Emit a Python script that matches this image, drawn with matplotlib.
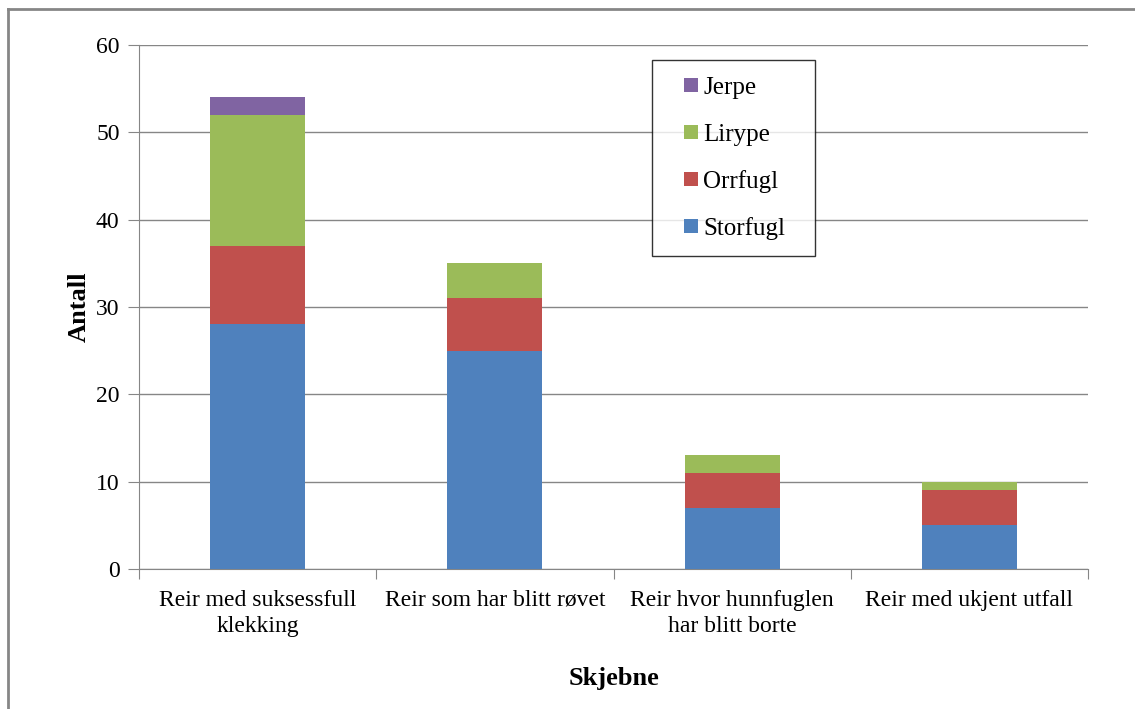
import numpy as np
import matplotlib.pyplot as plt
from matplotlib.lines import Line2D

plt.rcParams['font.family'] = ['Liberation Serif', 'DejaVu Serif']

# Antall reir per skjebne, fordelt på art
kategorier = ["Reir med suksessfull\nklekking", "Reir som har blitt røvet",
              "Reir hvor hunnfuglen\nhar blitt borte", "Reir med ukjent utfall"]
storfugl = [28, 25, 7, 5]
orrfugl = [9, 6, 4, 4]
lirype = [15, 4, 2, 1]
jerpe = [2, 0, 0, 0]

serier = [("Storfugl", storfugl, "#4F81BD"),
          ("Orrfugl", orrfugl, "#C0504D"),
          ("Lirype", lirype, "#9BBB59"),
          ("Jerpe", jerpe, "#8064A2")]

fig = plt.figure(figsize=(11.35, 7.09), dpi=100)
ax = fig.add_axes([0.1225, 0.1975, 0.8361, 0.739])

x = np.arange(len(kategorier))
bunn = np.zeros(len(kategorier))
for navn, verdier, farge in serier:
    ax.bar(x, verdier, 0.4, bottom=bunn, color=farge, label=navn, zorder=3)
    bunn += np.array(verdier)

ax.set_xlim(-0.5, 3.5)
ax.set_ylim(0, 60)
ax.set_yticks(range(0, 61, 10))
ax.yaxis.grid(True, color="#868686", linewidth=1, zorder=0)

# kategori-grenser som tick-merker på x-aksen
ax.set_xticks(np.arange(-0.5, 4, 1))
ax.set_xticklabels([])
ax.set_xticks(x, minor=True)
ax.set_xticklabels(kategorier, minor=True, fontsize=17, linespacing=1.3)
ax.tick_params(axis="x", which="minor", length=0, pad=15)
ax.tick_params(axis="x", which="major", length=7, color="#868686")
ax.tick_params(axis="y", length=8, color="#868686", labelsize=17, pad=6)

for side in ["top", "right"]:
    ax.spines[side].set_visible(False)
for side in ["left", "bottom"]:
    ax.spines[side].set_color("#868686")

ax.set_ylabel("Antall", fontsize=19, fontweight="bold", labelpad=4)
ax.set_xlabel("Skjebne", fontsize=19, fontweight="bold", labelpad=22)

# kvadratiske markører i forklaringen, nyeste serie øverst
handles = [Line2D([], [], linestyle="none", marker="s", markersize=9.4,
                  markerfacecolor=farge, markeredgewidth=0)
           for _, _, farge in serier[::-1]]
labels = [navn for navn, _, _ in serier[::-1]]
leg = ax.legend(handles, labels, loc="upper left",
                bbox_to_anchor=(0.5406, 0.571, 0.1718, 0.4), mode="expand",
                borderaxespad=0, fontsize=18, frameon=True, fancybox=False,
                edgecolor="black", handlelength=1.78, handletextpad=-0.39,
                labelspacing=0.97, borderpad=0.65)
leg.get_frame().set_linewidth(1)

# ramme rundt diagramområdet
fig.add_artist(Line2D([8 / 1135, 1], [1 - 9 / 709, 1 - 9 / 709],
                      transform=fig.transFigure, color="#868686", linewidth=2))
fig.add_artist(Line2D([8 / 1135, 8 / 1135], [0, 1 - 9 / 709],
                      transform=fig.transFigure, color="#868686", linewidth=2))

fig.savefig("out.png", dpi=100)
